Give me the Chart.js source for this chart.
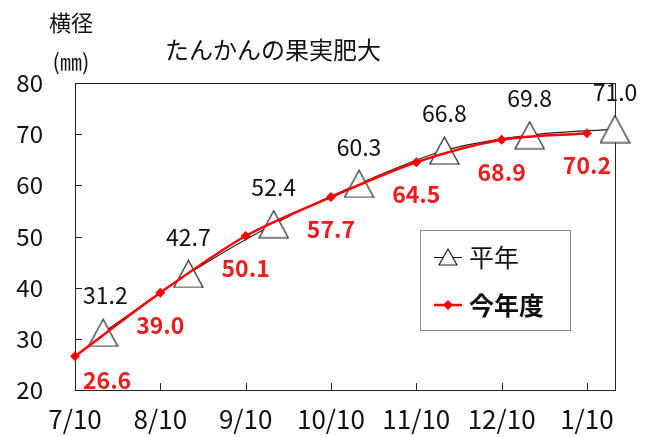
<!DOCTYPE html>
<html>
<head>
<meta charset="utf-8">
<script src="https://cdn.jsdelivr.net/npm/chart.js@4.4.1/dist/chart.umd.min.js"></script>
<style>
  html, body { margin: 0; padding: 0; background: #fff; }
  #wrap { width: 648px; height: 437px; position: relative; }
</style>
</head>
<body>
<div id="wrap"><canvas id="c"></canvas></div>
<script>
// data
const tickLabels = ['7/10', '8/10', '9/10', '10/10', '11/10', '12/10', '1/10'];
const thisYearDates = ['7/10', '8/10', '9/10', '10/10', '11/10', '12/10', '1/10'];
const thisYearValues = [26.6, 39.0, 50.1, 57.7, 64.5, 68.9, 70.2];
const normalDates = ['7/20', '8/20', '9/20', '10/20', '11/20', '12/20', '1/20'];
const normalValues = [31.2, 42.7, 52.4, 60.3, 66.8, 69.8, 71.0];

const FONT = "'Noto Sans CJK JP', 'Noto Sans', sans-serif";

// month/day -> position on the month axis (7/10 = 0, one unit per month)
function datePos(s) {
  const [m, d] = s.split('/').map(Number);
  const idx = (m + 12 - 7) % 12;
  return idx + (d - 10) / 30.4;
}

const thisYearPts = thisYearDates.map((d, i) => ({x: datePos(d), y: thisYearValues[i]}));
const normalPts = normalDates.map((d, i) => ({x: datePos(d), y: normalValues[i]}));

// open triangle marker, centred on the point like Excel does
function makeTriangle(w, h) {
  const c = document.createElement('canvas');
  c.width = w + 2; c.height = h + 2;
  const g = c.getContext('2d');
  g.beginPath();
  g.moveTo(1, h + 1);
  g.lineTo(w + 1, h + 1);
  g.lineTo(w / 2 + 1, 1);
  g.closePath();
  g.fillStyle = '#fff';
  g.fill();
  g.lineWidth = 1.2;
  g.strokeStyle = '#222';
  g.stroke();
  return c;
}
const bigTri = makeTriangle(29, 27);
const smallTri = makeTriangle(18, 16);

// value labels
const valueLabels = {
  id: 'valueLabels',
  afterDatasetsDraw(chart) {
    const ctx = chart.ctx;
    const area = chart.chartArea;
    ctx.save();
    ctx.textAlign = 'center';
    ctx.textBaseline = 'middle';
    chart.data.datasets.forEach((ds, di) => {
      const meta = chart.getDatasetMeta(di);
      const above = ds.labelAbove;
      ctx.font = (ds.labelBold ? 'bold ' : '') + '23px ' + FONT;
      ctx.fillStyle = ds.labelColor;
      meta.data.forEach((pt, i) => {
        const txt = ds.data[i].y.toFixed(1);
        const w = ctx.measureText(txt).width;
        let x = pt.x;
        let y = above ? pt.y - 37 : pt.y + 32;
        if (x - w / 2 < area.left + 8) x = area.left + 8 + w / 2;
        if (y + 10 > area.bottom) y = area.bottom - 10;
        ctx.fillText(txt, x, y);
      });
    });
    ctx.restore();
  }
};

// frame, inward ticks, titles, legend
const decorations = {
  id: 'decorations',
  beforeDatasetsDraw(chart) {
    const ctx = chart.ctx;
    const a = chart.chartArea;
    const xs = chart.scales.x, ys = chart.scales.y;
    ctx.save();
    ctx.strokeStyle = '#222';
    ctx.lineWidth = 1;
    ctx.strokeRect(a.left + 0.5, a.top + 0.5, a.right - a.left, a.bottom - a.top);
    ctx.beginPath();
    ys.ticks.forEach(t => {
      const y = Math.round(ys.getPixelForValue(t.value)) + 0.5;
      ctx.moveTo(a.left, y); ctx.lineTo(a.left + 7, y);
    });
    xs.ticks.forEach(t => {
      const x = Math.round(xs.getPixelForValue(t.value)) + 0.5;
      ctx.moveTo(x, a.bottom); ctx.lineTo(x, a.bottom - 7);
    });
    ctx.stroke();

    ctx.fillStyle = '#111';
    ctx.textAlign = 'center';
    ctx.textBaseline = 'middle';
    ctx.font = '24px ' + FONT;
    ctx.fillText('たんかんの果実肥大', 273, 50);
    ctx.font = '22px ' + FONT;
    ctx.fillText('横径', 71, 23);
    ctx.fillText('(㎜)', 71, 62);
    ctx.restore();
  },
  afterDraw(chart) {
    const ctx = chart.ctx;
    ctx.save();
    // legend box
    ctx.fillStyle = '#fff';
    ctx.fillRect(420, 230, 150, 100);
    ctx.strokeStyle = '#888';
    ctx.lineWidth = 1;
    ctx.strokeRect(420.5, 230.5, 150, 100);

    // 平年
    ctx.strokeStyle = '#222';
    ctx.lineWidth = 1;
    ctx.beginPath();
    ctx.moveTo(434, 257.5); ctx.lineTo(462, 257.5);
    ctx.stroke();
    ctx.drawImage(smallTri, 448 - smallTri.width / 2, 257 - smallTri.height / 2);

    // 今年度
    ctx.strokeStyle = '#ff0000';
    ctx.lineWidth = 2.5;
    ctx.beginPath();
    ctx.moveTo(434, 305); ctx.lineTo(462, 305);
    ctx.stroke();
    ctx.fillStyle = '#ff0000';
    ctx.beginPath();
    ctx.moveTo(448, 300); ctx.lineTo(453, 305); ctx.lineTo(448, 310); ctx.lineTo(443, 305);
    ctx.closePath();
    ctx.fill();

    ctx.fillStyle = '#111';
    ctx.textAlign = 'left';
    ctx.textBaseline = 'middle';
    ctx.font = '25px ' + FONT;
    ctx.fillText('平年', 469, 257);
    ctx.font = 'bold 25px ' + FONT;
    ctx.fillText('今年度', 469, 305);
    ctx.restore();
  }
};

new Chart(document.getElementById('c'), {
  type: 'line',
  data: {
    datasets: [
      {
        label: '今年度',
        data: thisYearPts,
        borderColor: '#ff0000',
        backgroundColor: '#ff0000',
        borderWidth: 2.5,
        pointStyle: 'rectRot',
        pointRadius: 5,
        pointBorderWidth: 0,
        tension: 0.3,
        clip: false,
        labelAbove: false,
        labelBold: true,
        labelColor: '#ee1c1c'
      },
      {
        label: '平年',
        data: normalPts,
        borderColor: '#222',
        borderWidth: 1.2,
        pointStyle: bigTri,
        tension: 0.3,
        clip: false,
        labelAbove: true,
        labelBold: false,
        labelColor: '#111'
      }
    ]
  },
  options: {
    responsive: true,
    maintainAspectRatio: false,
    animation: false,
    events: [],
    layout: { padding: { top: 83, right: 33, left: 0, bottom: 0 } },
    plugins: {
      legend: { display: false },
      title: { display: false },
      tooltip: { enabled: false }
    },
    scales: {
      x: {
        type: 'linear',
        min: 0,
        max: datePos(normalDates[normalDates.length - 1]),
        grid: { display: false, drawTicks: false },
        border: { display: true, color: '#222', width: 1 },
        afterFit(s) { s.height = 47; },
        ticks: {
          stepSize: 1,
          includeBounds: false,
          autoSkip: false,
          maxRotation: 0,
          padding: 14,
          color: '#111',
          font: { family: FONT, size: 26 },
          callback: v => tickLabels[v] ?? ''
        }
      },
      y: {
        min: 20,
        max: 80,
        grid: { display: false, drawTicks: false },
        border: { display: true, color: '#222', width: 1 },
        afterFit(s) { s.width = 75; },
        ticks: {
          stepSize: 10,
          padding: 32,
          color: '#111',
          font: { family: FONT, size: 24 }
        }
      }
    }
  },
  plugins: [decorations, valueLabels]
});
</script>
</body>
</html>
